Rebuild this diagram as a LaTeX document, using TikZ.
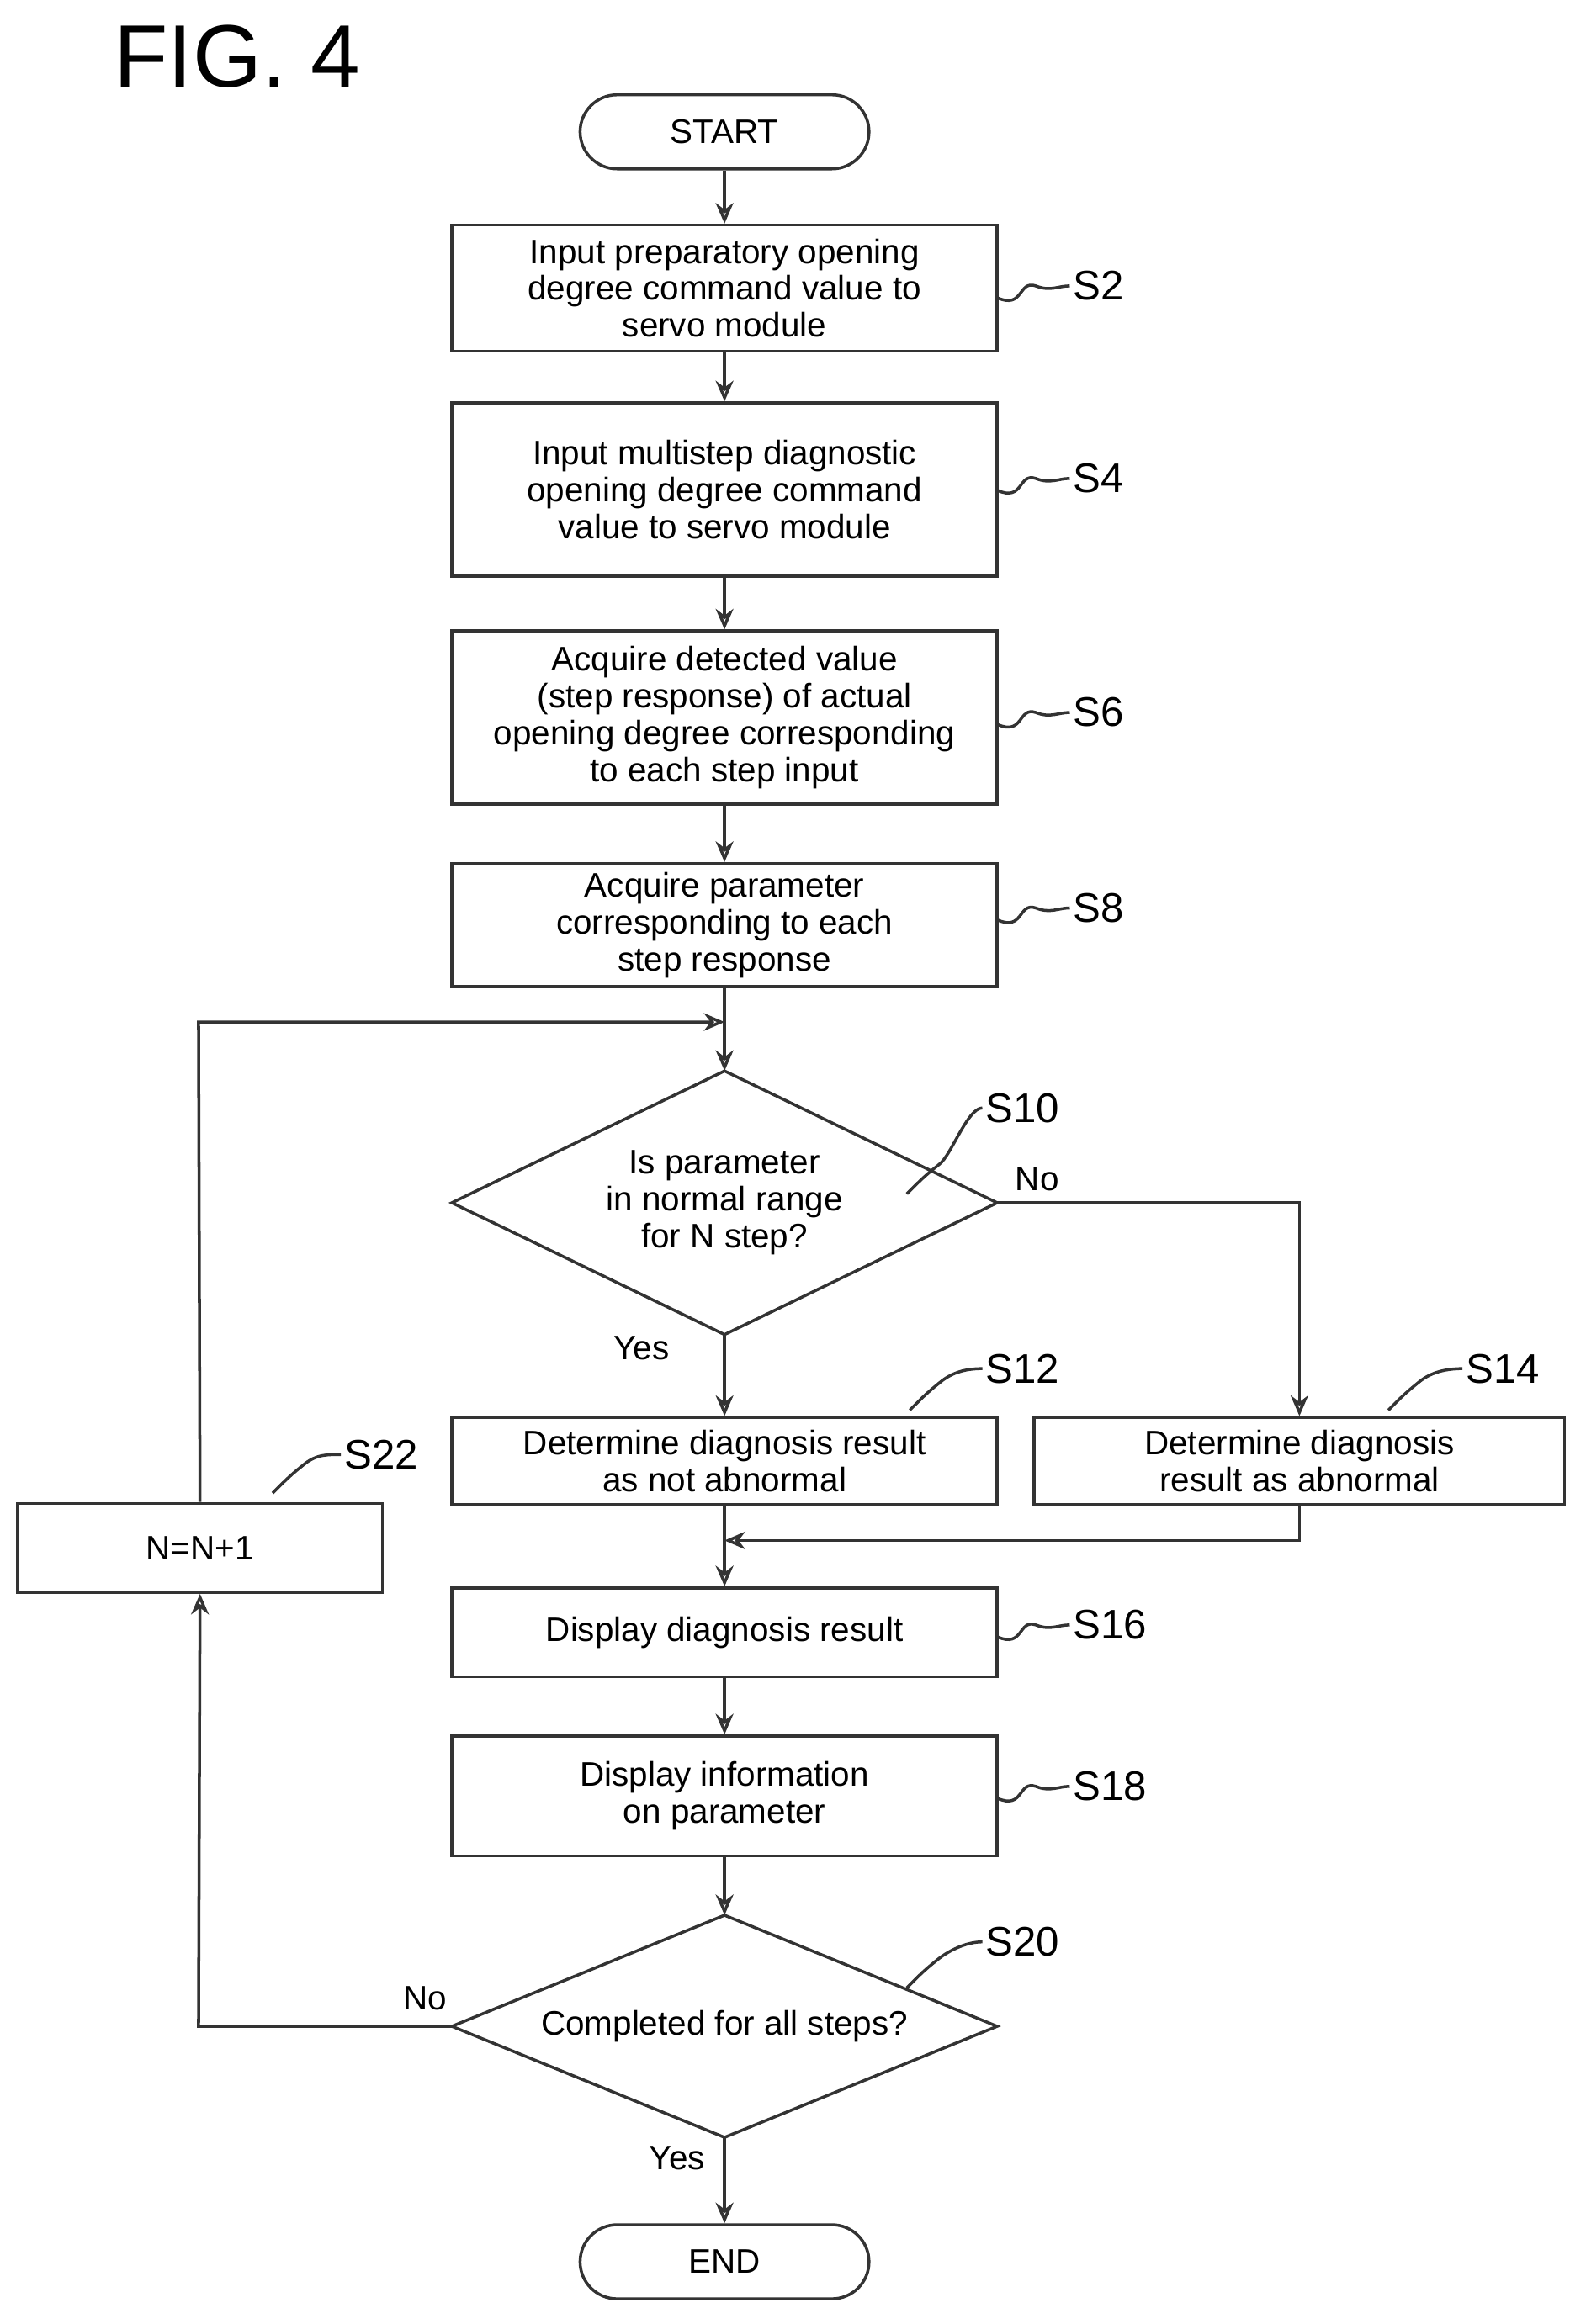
\documentclass[tikz,border=0pt]{standalone}
\usepackage{fontspec}
\setmainfont{Liberation Sans}
\usetikzlibrary{arrows.meta}
\newlength\uu \setlength\uu{0.01761cm}
\begin{document}
\begin{tikzpicture}[x=0.01761cm,y=-0.01761cm,
  ln/.style={draw=black!80,line width=1pt},
  arr/.style={ln,-{Stealth[length=7pt,width=6pt,open]}},
  box/.style={ln,rectangle,minimum width=368\uu,inner sep=0pt,align=center,font=\fontsize{11.5}{12.5}\selectfont},
  term/.style={ln,rounded corners=25\uu,minimum width=195\uu,minimum height=50\uu,font=\fontsize{11.5}{12.5}\selectfont},
  lab/.style={font=\fontsize{14}{14}\selectfont,anchor=west,inner sep=1pt},
  txt/.style={font=\fontsize{11.5}{12.5}\selectfont,align=center}]
\useasboundingbox (0,0) rectangle (1070,1569);
\node[font=\fontsize{30}{30}\selectfont] (fig) at (160,38) {FIG. 4};
\node[term] (start) at (489,89) {START};
\node[box,minimum height=85\uu] (s2) at (489,194.5) {Input preparatory opening\\degree command value to\\servo module};
\node[box,minimum height=117\uu] (s4) at (489,330.5) {Input multistep diagnostic\\opening degree command\\value to servo module};
\node[box,minimum height=117\uu] (s6) at (489,484.5) {Acquire detected value\\(step response) of actual\\opening degree corresponding\\to each step input};
\node[box,minimum height=83\uu] (s8) at (489,624.5) {Acquire parameter\\corresponding to each\\step response};
\coordinate (d1t) at (489,723); \coordinate (d1b) at (489,901);
\coordinate (d1l) at (305,812); \coordinate (d1r) at (673,812);
\draw[ln] (d1t)--(d1r)--(d1b)--(d1l)--cycle;
\node[txt] (s10) at (489,812) {Is parameter\\in normal range\\for N step?};
\node[box,minimum height=59\uu] (s12) at (489,986.5) {Determine diagnosis result\\as not abnormal};
\node[box,minimum width=358\uu,minimum height=59\uu] (s14) at (877,986.5) {Determine diagnosis\\result as abnormal};
\node[box,minimum width=246\uu,minimum height=60\uu] (s22) at (135,1045) {N=N+1};
\node[box,minimum height=60\uu] (s16) at (489,1102) {Display diagnosis result};
\node[box,minimum height=81\uu] (s18) at (489,1212.5) {Display information\\on parameter};
\coordinate (d2t) at (489,1293); \coordinate (d2b) at (489,1443);
\coordinate (d2l) at (305,1368); \coordinate (d2r) at (673,1368);
\draw[ln] (d2t)--(d2r)--(d2b)--(d2l)--cycle;
\node[txt] (s20) at (489,1368) {Completed for all steps?};
\node[term] (end) at (489,1527) {END};
% connectors
\draw[arr] (start)--(s2);
\draw[arr] (s2)--(s4);
\draw[arr] (s4)--(s6);
\draw[arr] (s6)--(s8);
\coordinate (m1) at (489,690);
\draw[ln] (s8.south)--(m1);
\draw[arr] (m1)--(d1t);
\draw[arr] (d1b)--(s12);
\coordinate (c1) at (877,812);
\draw[arr] (d1r)--(c1)--(s14);
\coordinate (m2) at (489,1040);
\coordinate (c2) at (877,1040);
\draw[arr] (s14.south)--(c2)--(m2);
\draw[arr] (s12)--(s16);
\draw[arr] (s16)--(s18);
\draw[arr] (s18)--(d2t);
\draw[arr] (d2b)--(end);
\coordinate (c3) at (134,1368);
\draw[arr] (d2l)--(c3)--(s22.south);
\coordinate (c4) at (134,690);
\draw[arr] (s22.north)--(c4)--(m1);
\node[txt] at (700,796) {No};
\node[txt] at (433,910) {Yes};
\node[txt] at (287,1349) {No};
\node[txt] at (457,1457) {Yes};
% step labels
\newcommand{\sq}[3]{\node[lab] (#1) at #3 {#1};
  \draw[ln] #2 .. controls +(18,8) and +(-12,-4) .. ++(26,-8) .. controls +(10,4) and +(-8,0) .. (#1.west);}
\sq{S2}{(673,201)}{(722,193)}
\sq{S4}{(673,331)}{(722,323)}
\sq{S6}{(673,489)}{(722,481)}
\sq{S8}{(673,621)}{(722,613)}
\sq{S16}{(673,1105)}{(722,1097)}
\sq{S18}{(673,1214)}{(722,1206)}
\newcommand{\sqd}[3]{\node[lab] (#1) at #3 {#1};
  \draw[ln] #2 .. controls +(10,-10) and +(-10,8) .. ++(22,-20) .. controls +(8,-6) and +(-10,0) .. (#1.west);}
\sqd{S10}{(612,806)}{(663,748)}
\sqd{S12}{(614,952)}{(663,924)}
\sqd{S14}{(937,952)}{(987,924)}
\sqd{S22}{(184,1008)}{(230,982)}
\sqd{S20}{(612,1342)}{(663,1311)}
\end{tikzpicture}
\end{document}
